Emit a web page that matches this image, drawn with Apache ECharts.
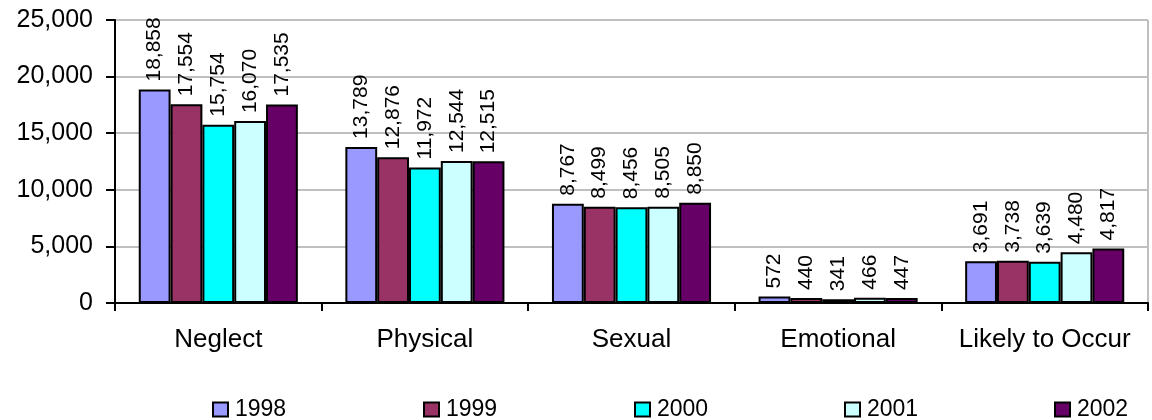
<!DOCTYPE html>
<html><head><meta charset="utf-8">
<script src="https://cdn.jsdelivr.net/npm/echarts@6/dist/echarts.min.js"></script>
<style>html,body{margin:0;padding:0;background:#fff}#c{width:1152px;height:420px}</style>
</head><body><div id="c"></div>
<script>
const categories = ['Neglect','Physical','Sexual','Emotional','Likely to Occur'];
const years = ['1998','1999','2000','2001','2002'];
const v1998 = [18858, 13789, 8767, 572, 3691];
const v1999 = [17554, 12876, 8499, 440, 3738];
const v2000 = [15754, 11972, 8456, 341, 3639];
const v2001 = [16070, 12544, 8505, 466, 4480];
const v2002 = [17535, 12515, 8850, 447, 4817];
const yTicks = [0, 5000, 10000, 15000, 20000, 25000];
const colors = ['#9999FF','#993366','#00FFFF','#CCFFFF','#660066'];
const values = [v1998, v1999, v2000, v2001, v2002];
const fmt = n => n.toLocaleString('en-US');
const font = 'Arial, "Liberation Sans", sans-serif';
const legendLefts = [212, 423, 634, 844, 1054];

const chart = echarts.init(document.getElementById('c'));
chart.setOption({
  animation: false,
  grid: {left: 115, right: 4, top: 20, bottom: 117, show: true, borderColor: '#808080', borderWidth: 1},
  legend: years.map((y, i) => ({
    data: [y], left: legendLefts[i], top: 398, itemWidth: 15, itemHeight: 14, itemGap: 0, padding: 0,
    icon: 'rect', textStyle: {fontFamily: font, fontSize: 23, color: '#000', padding: [0,0,0,2]}
  })),
  xAxis: {
    type: 'category', data: categories,
    axisLine: {lineStyle: {color: '#000', width: 2}},
    axisTick: {show: true, length: 8, lineStyle: {color: '#000', width: 2}},
    axisLabel: {interval: 0, fontFamily: font, fontSize: 26, color: '#000', margin: 24}
  },
  yAxis: {
    type: 'value', min: yTicks[0], max: yTicks[yTicks.length-1], interval: 5000,
    axisLine: {show: true, lineStyle: {color: '#000', width: 2}},
    axisTick: {show: true, length: 9, lineStyle: {color: '#000', width: 2}},
    splitLine: {lineStyle: {color: '#c0c0c0', width: 2}},
    axisLabel: {fontFamily: font, fontSize: 25, color: '#000', margin: 22, formatter: v => fmt(v)}
  },
  series: years.map((y, i) => ({
    name: y, type: 'bar', data: values[i],
    barGap: '0%', barCategoryGap: '23%',
    itemStyle: {color: colors[i], borderColor: '#000', borderWidth: 2},
    label: {show: true, position: 'top', rotate: 90, align: 'left', verticalAlign: 'middle',
      distance: 8, fontFamily: font, fontSize: 21, color: '#000', formatter: p => fmt(p.value)}
  }))
});
</script></body></html>
